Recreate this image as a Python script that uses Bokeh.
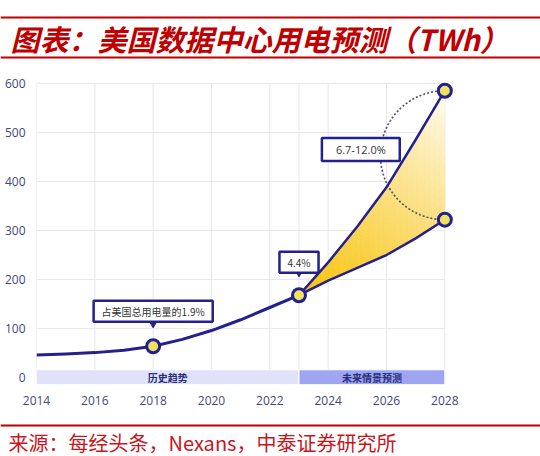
import numpy as np
from bokeh.plotting import figure
from bokeh.layouts import column
from bokeh.models import Label, FixedTicker
from bokeh.core.properties import value
from bokeh.embed import file_html
from bokeh.resources import INLINE

# ---- data (TWh) ----
hist_years = [2014, 2015, 2016, 2017, 2018, 2019, 2020, 2021, 2022, 2023]
hist_twh = [46, 48, 51, 56, 64, 78, 96, 118, 143, 168]

proj_years = [2023, 2024, 2025, 2026, 2027, 2028]
proj_high = [168, 235, 308, 388, 485, 585]
proj_low = [168, 198, 224, 250, 284, 322]

marker_years = [2018, 2023, 2028, 2028]
marker_twh = [64, 168, 585, 322]

share_labels = ["占美国总用电量的1.9%", "4.4%"]
share_years = [2018, 2023]
share_twh = [64, 168]
range_label = "6.7-12.0%"

periods = ["历史趋势", "未来情景预测"]
period_start = [2014, 2023]
period_end = [2023, 2028]

x_ticks = [2014, 2016, 2018, 2020, 2022, 2024, 2026, 2028]
y_ticks = [0, 100, 200, 300, 400, 500, 600]

title_text = "图表：美国数据中心用电预测（TWh）"
source_text = "来源：每经头条，Nexans，中泰证券研究所"

# ---- styles ----
RED = "#c00000"
NAVY = "#24208e"
TICK_COLOR = "#44477a"
GRID = "#e7e7ec"
CJK = "Noto Sans CJK SC"

# axis extents; the ranges run a little past the last tick so the
# end markers are not cut off by the frame
X_START, X_END = 2014, 2028
Y_START, Y_END = -14, 600
X0, X1 = X_START, 2028.4
Y0, Y1 = Y_START, 614
FW, FH = 420, 308
PXX = FW / (X1 - X0)
PXY = FH / (Y1 - Y0)

# ---- header ----
head = figure(width=540, height=60, x_range=(0, 540), y_range=(60, 0),
              output_backend="svg", toolbar_location=None, min_border=0,
              frame_align=False)
head.axis.visible = False
head.grid.visible = False
head.outline_line_color = None
head.segment(x0=[0, 0], y0=[17, 57], x1=[540, 540], y1=[17, 57],
             line_color=RED, line_width=2)
head.text(x=[10], y=[37], text=[title_text], text_font=value(CJK),
          text_font_size="29px", text_font_style="bold italic",
          text_color=RED, text_baseline="middle", text_align="left")

# ---- chart ----
p = figure(width=540, height=358, x_range=(X0, X1), y_range=(Y0, Y1),
           output_backend="svg", toolbar_location=None,
           min_border_left=36, min_border_right=540 - 36 - FW,
           min_border_top=16, min_border_bottom=358 - 16 - FH,
           frame_align=False)
p.outline_line_color = None
p.grid.visible = False

p.xaxis.ticker = FixedTicker(ticks=x_ticks)
p.yaxis.ticker = FixedTicker(ticks=y_ticks)
for ax in (p.xaxis, p.yaxis):
    ax.axis_line_color = None
    ax.major_tick_line_color = None
    ax.minor_tick_line_color = None
    ax.major_label_text_font = "Open Sans"
    ax.major_label_text_font_size = "12px"
    ax.major_label_text_color = TICK_COLOR
p.xaxis.major_label_standoff = 5
p.yaxis.major_label_standoff = 5

# grid lines limited to the tick span
grid_x = x_ticks + [2023]
p.segment(x0=grid_x, y0=[Y_START] * len(grid_x), x1=grid_x, y1=[Y_END] * len(grid_x),
          line_color=GRID, line_width=1)
gy = y_ticks[1:]
p.segment(x0=[X_START] * len(gy), y0=gy, x1=[X_END] * len(gy), y1=gy,
          line_color=GRID, line_width=1)

# period bands along the bottom
BAND_TOP = 16
p.quad(left=period_start, right=period_end, bottom=[Y_START] * 2, top=[BAND_TOP] * 2,
       fill_color=["#dfe2f8", "#9ea6f1"], line_color="white", line_width=1)
p.text(x=[(a + b) / 2 for a, b in zip(period_start, period_end)],
       y=[(Y_START + BAND_TOP) / 2] * 2, text=periods, text_font=value(CJK),
       text_font_size="10px", text_font_style="bold", text_color="#2b2f7a",
       text_align="center", text_baseline="middle")

# gradient fill between the two scenario curves
xs_f = np.linspace(proj_years[0], proj_years[-1], 61)
hi_f = np.interp(xs_f, proj_years, proj_high)
lo_f = np.interp(xs_f, proj_years, proj_low)
M = 14
c0 = np.array([248, 196, 10], dtype=float)
c1 = np.array([255, 251, 240], dtype=float)
smax = 0.55 * (proj_years[-1] - proj_years[0]) * PXX + 0.85 * (proj_high[-1] - proj_high[0]) * PXY
qx, qy, qc = [], [], []
for i in range(len(xs_f) - 1):
    for j in range(M):
        t0, t1 = j / M, (j + 1) / M
        ya0 = lo_f[i] + t0 * (hi_f[i] - lo_f[i])
        ya1 = lo_f[i] + t1 * (hi_f[i] - lo_f[i])
        yb0 = lo_f[i + 1] + t0 * (hi_f[i + 1] - lo_f[i + 1])
        yb1 = lo_f[i + 1] + t1 * (hi_f[i + 1] - lo_f[i + 1])
        qx.append([xs_f[i], xs_f[i + 1], xs_f[i + 1], xs_f[i]])
        qy.append([ya0, yb0, yb1, ya1])
        xc = (xs_f[i] + xs_f[i + 1]) / 2 - proj_years[0]
        yc = (ya0 + ya1 + yb0 + yb1) / 4 - proj_high[0]
        s = np.clip((0.55 * xc * PXX + 0.85 * yc * PXY) / smax, 0, 1) ** 1.1
        c = (c0 + (c1 - c0) * s).astype(int)
        qc.append("#%02x%02x%02x" % tuple(c))
p.patches(qx, qy, fill_color=qc, line_color=qc, line_width=0.6)

# dotted arc joining the two 2028 scenario values
cy = (proj_high[-1] + proj_low[-1]) / 2
ry = (proj_high[-1] - proj_low[-1]) / 2
rx = ry * PXY / PXX
th = np.linspace(np.pi / 2, 3 * np.pi / 2, 80)
p.line(proj_years[-1] + rx * np.cos(th), cy + ry * np.sin(th),
       line_color="#4b4e6a", line_width=1.6, line_dash="2 2")

# curves
p.line(hist_years, hist_twh, line_color=NAVY, line_width=3, line_join="round")
p.line(proj_years, proj_high, line_color=NAVY, line_width=2.5, line_join="round")
p.line(proj_years, proj_low, line_color=NAVY, line_width=2.5, line_join="round")

# pointers under the share callouts
p.scatter(share_years, [v + 23 / PXY for v in share_twh], marker="inverted_triangle",
          size=8, fill_color=NAVY, line_color=NAVY)

p.scatter(marker_years, marker_twh, size=13, fill_color="#f1e160",
          line_color=NAVY, line_width=3)

# callouts
for txt, yr, v, off in zip(share_labels, share_years, share_twh, [35, 33]):
    p.add_layout(Label(x=yr, y=v, y_offset=off, text=txt, text_font=CJK,
                       text_font_size="10px", text_color="#333333",
                       text_align="center", text_baseline="middle",
                       background_fill_color="white", border_line_color=NAVY,
                       border_line_width=2.5,
                       padding=dict(left=8, right=8, top=3, bottom=3)))
p.add_layout(Label(x=2025.12, y=465, text=range_label, text_font="Open Sans",
                   text_font_size="11px", text_color="#333333",
                   text_align="center", text_baseline="middle",
                   background_fill_color="white", border_line_color=NAVY,
                   border_line_width=2.5,
                   padding=dict(left=14, right=14, top=4, bottom=4)))

# ---- footer ----
foot = figure(width=540, height=38, x_range=(0, 540), y_range=(38, 0),
              output_backend="svg", toolbar_location=None, min_border=0,
              frame_align=False)
foot.axis.visible = False
foot.grid.visible = False
foot.outline_line_color = None
foot.segment(x0=[0], y0=[7], x1=[540], y1=[7], line_color=RED, line_width=2)
foot.text(x=[8], y=[24], text=[source_text], text_font=value(CJK),
          text_font_size="20px", text_color="#c8161d",
          text_baseline="middle", text_align="left")

layout = column(head, p, foot, spacing=0)
open("out.html", "w").write(file_html(layout, INLINE))
